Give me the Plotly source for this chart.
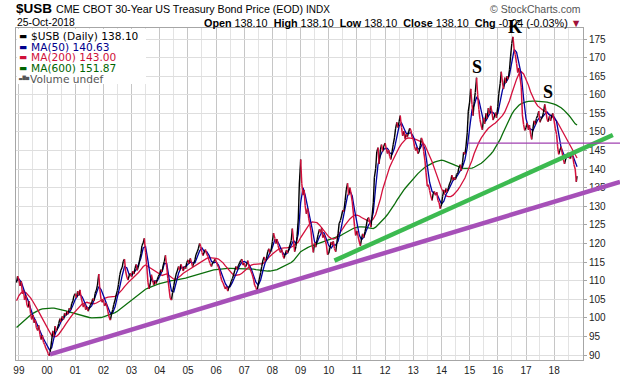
import pandas as pd
import plotly.graph_objects as go

# ---------------- data ----------------
# $USB closes, semi-monthly samples (1st and 15th) from Dec-1998, last = 25-Oct-2018
price_usb = [
    109.5, 111.2,  # 1998 Dec
    110.2, 108.6, 109.8, 106.5, 107.4, 104.8, 106.0, 103.4, 102.8, 104.5, 101.2, 99.6, 100.8, 98.7, 99.5, 97.4, 96.6, 98.0, 95.5, 94.2, 95.3, 93.4, 92.8, 91.9,  # 1999
    91.2, 90.4, 89.8, 91.5, 94.0, 96.5, 95.2, 97.8, 96.4, 97.2, 98.5, 99.8, 98.9, 100.4, 99.6, 101.3, 100.6, 101.8, 101.0, 102.6, 102.2, 103.8, 104.6, 106.0,  # 2000
    106.5, 105.4, 107.2, 106.0, 107.5, 105.8, 104.2, 102.9, 103.8, 102.2, 103.0, 101.8, 102.6, 103.4, 104.0, 105.2, 104.6, 106.6, 107.4, 108.8, 111.8, 107.6, 105.0, 104.2,  # 2001
    104.8, 103.2, 104.0, 103.0, 101.6, 100.2, 99.4, 101.0, 102.2, 103.6, 104.8, 106.2, 107.4, 109.0, 111.6, 112.8, 113.6, 115.2, 115.8, 112.6, 111.0, 110.2, 111.4, 112.0,  # 2002
    111.0, 112.6, 111.8, 113.4, 114.4, 112.8, 114.0, 115.6, 117.2, 119.4, 120.2, 121.4, 117.6, 114.4, 109.6, 107.8, 109.4, 111.6, 110.2, 108.8, 110.0, 109.2, 110.4, 111.2,  # 2003
    111.8, 113.0, 112.4, 114.2, 115.2, 116.8, 113.6, 110.6, 107.8, 105.4, 104.8, 106.8, 108.6, 110.2, 111.8, 112.6, 113.8, 112.8, 114.4, 113.6, 112.6, 113.8, 113.2, 114.8,  # 2004
    115.6, 114.6, 116.0, 115.0, 113.8, 114.6, 115.6, 117.0, 117.8, 118.6, 120.0, 119.2, 117.6, 116.8, 117.8, 118.4, 117.2, 116.6, 115.4, 114.6, 113.8, 114.8, 115.0, 115.8,  # 2005
    115.2, 114.4, 113.6, 112.6, 111.2, 110.0, 109.4, 108.6, 107.8, 108.4, 107.2, 108.2, 108.8, 109.8, 110.6, 111.6, 112.8, 113.8, 113.0, 114.0, 114.8, 115.4, 115.8, 114.2,  # 2006
    114.8, 113.6, 114.4, 115.4, 114.0, 113.2, 112.4, 111.6, 110.4, 108.8, 108.2, 107.2, 109.0, 110.4, 112.2, 113.8, 115.6, 116.4, 115.2, 116.0, 117.8, 118.6, 117.4, 118.2,  # 2007
    120.6, 122.8, 121.4, 120.0, 121.2, 119.4, 118.2, 117.6, 118.4, 116.8, 116.0, 117.2, 118.2, 117.4, 118.6, 119.6, 120.8, 124.0, 120.6, 117.8, 119.2, 121.8, 126.6, 136.0,  # 2008
    142.6, 136.2, 133.0, 134.4, 130.2, 128.0, 129.4, 126.8, 125.0, 123.4, 119.4, 117.6, 120.2, 119.0, 121.0, 122.4, 123.8, 123.0, 124.2, 121.6, 122.4, 121.0, 119.6, 117.0,  # 2009
    117.4, 118.8, 120.4, 119.6, 120.6, 118.6, 117.8, 120.2, 122.6, 125.4, 126.2, 127.4, 129.0, 128.6, 131.6, 134.4, 136.2, 133.0, 135.0, 133.6, 131.2, 128.2, 124.6, 122.2,  # 2010
    123.4, 122.0, 120.4, 119.4, 121.2, 122.6, 121.6, 123.2, 124.6, 126.4, 127.0, 125.8, 124.4, 127.2, 131.0, 137.8, 140.2, 144.6, 145.8, 141.4, 145.2, 146.6, 144.8, 146.2,  # 2011
    147.0, 145.6, 144.2, 145.2, 143.4, 142.6, 144.8, 146.6, 148.4, 150.8, 152.6, 151.2, 152.8, 154.4, 151.2, 149.0, 150.2, 148.2, 149.4, 148.6, 150.0, 151.0, 150.4, 148.6,  # 2012
    148.0, 146.2, 145.0, 145.8, 144.2, 144.6, 146.4, 148.4, 147.6, 144.8, 142.2, 139.0, 135.4, 135.8, 134.2, 132.8, 131.6, 133.4, 134.0, 133.0, 133.8, 131.6, 131.0, 129.4,  # 2013
    130.4, 132.6, 134.4, 133.6, 134.8, 133.8, 135.0, 136.0, 136.8, 138.4, 137.0, 137.8, 137.2, 138.6, 139.0, 140.4, 141.2, 139.6, 141.8, 144.6, 144.0, 146.2, 149.8, 155.6,  # 2014
    158.0, 161.6, 157.4, 154.4, 158.2, 160.6, 164.6, 160.0, 156.0, 153.4, 151.6, 150.6, 153.8, 152.2, 155.0, 153.6, 156.4, 154.8, 157.0, 155.6, 153.2, 154.0, 155.2, 153.8,  # 2015
    156.8, 160.4, 163.0, 166.2, 163.4, 161.6, 164.6, 163.2, 165.0, 164.2, 166.8, 170.4, 173.8, 175.6, 172.0, 170.8, 168.4, 166.0, 167.2, 164.8, 162.0, 154.6, 152.0, 150.4,  # 2016
    151.2, 152.4, 150.6, 151.8, 149.4, 148.0, 151.0, 153.0, 152.0, 153.6, 154.4, 155.6, 152.6, 153.4, 154.0, 155.2, 157.4, 155.8, 153.4, 152.8, 154.2, 153.0, 154.4, 155.0,  # 2017
    153.0, 151.0, 149.4, 146.0, 144.0, 145.0, 146.0, 144.4, 142.6, 141.4, 142.8, 143.8, 144.4, 143.2, 142.8, 144.6, 143.2, 141.2, 140.0, 136.6, 138.1,  # 2018
]

# moving averages, monthly samples (1st of month) from Dec-1998, last = 25-Oct-2018
ma50 = [
    110.0,
    110.4, 109.6, 107.8, 106.0, 104.6, 102.6, 100.6, 99.4, 97.8, 96.6, 95.0, 93.8,
    92.6, 91.4, 92.0, 94.8, 96.6, 97.6, 99.0, 99.8, 100.8, 101.2, 102.0, 103.4,
    105.0, 106.0, 106.4, 105.6, 104.0, 102.8, 102.6, 103.2, 104.8, 106.4, 108.4, 107.6,
    105.8, 104.0, 102.8, 101.2, 101.4, 103.0, 105.4, 108.4, 111.4, 113.8, 113.4, 111.6,
    111.4, 112.4, 113.0, 114.4, 116.0, 118.8, 119.2, 115.4, 111.0, 109.8, 109.8, 110.0,
    111.2, 112.6, 114.6, 114.6, 110.6, 107.2, 107.0, 109.6, 112.0, 113.4, 113.6, 113.8,
    114.4, 115.0, 114.8, 114.8, 116.4, 118.0, 118.8, 117.8, 117.8, 116.8, 115.2, 114.8,
    115.0, 114.2, 112.6, 110.8, 109.2, 108.2, 108.4, 109.6, 111.2, 112.8, 114.0, 115.0,
    115.2, 114.8, 114.4, 113.2, 111.6, 109.6, 108.8, 110.2, 112.8, 115.0, 116.2, 117.4,
    119.0, 121.0, 120.8, 119.6, 118.0, 117.0, 117.2, 118.2, 119.4, 120.8, 120.0, 122.6,
    131.0, 135.0, 133.0, 130.0, 127.4, 123.8, 120.4, 120.2, 121.8, 123.0, 122.8, 121.0,
    119.4, 118.8, 119.6, 119.6, 120.6, 123.2, 126.4, 129.0, 132.8, 134.2, 132.8, 129.0,
    125.2, 122.2, 121.0, 121.8, 123.4, 125.0, 125.8, 128.4, 135.2, 141.2, 143.6, 145.0,
    145.6, 145.6, 144.4, 144.0, 145.6, 148.6, 151.6, 152.4, 150.8, 149.6, 149.6, 149.8,
    148.8, 147.0, 145.4, 145.6, 147.0, 145.4, 140.8, 136.4, 134.0, 133.4, 133.4, 132.0,
    130.6, 131.4, 133.2, 134.4, 135.6, 137.0, 137.4, 138.4, 139.6, 140.6, 142.6, 145.8,
    151.0, 156.0, 157.2, 159.4, 158.6, 155.2, 152.8, 153.0, 154.4, 155.4, 155.2, 154.4,
    155.0, 158.0, 161.2, 163.0, 163.8, 165.4, 168.8, 172.2, 171.4, 168.8, 165.4, 159.0,
    153.6, 151.2, 150.8, 150.4, 151.8, 153.2, 154.0, 154.0, 154.8, 155.4, 154.6, 154.2,
    154.0, 152.8, 149.0, 145.8, 144.2, 143.2, 143.2, 143.8, 143.6, 142.2, 140.63,
]
ma200 = [
    104.6,
    106.0, 106.8, 107.0, 106.8, 106.2, 105.4, 104.4, 103.4, 102.2, 101.0, 99.8, 98.4,
    97.2, 96.0, 95.2, 94.9, 95.0, 95.6, 96.4, 97.4, 98.4, 99.4, 100.2, 101.0,
    101.8, 102.6, 103.2, 103.8, 104.0, 104.2, 104.0, 103.8, 103.8, 104.0, 104.4, 104.8,
    105.2, 105.4, 105.6, 105.6, 105.6, 105.8, 106.2, 106.8, 107.6, 108.4, 109.2, 109.8,
    110.4, 111.0, 111.6, 112.2, 113.0, 113.8, 114.2, 113.8, 113.2, 112.8, 112.4, 112.0,
    111.6, 111.4, 111.6, 111.8, 111.4, 110.8, 110.4, 110.4, 110.8, 111.4, 112.0, 112.4,
    112.8, 113.2, 113.6, 114.0, 114.4, 114.8, 115.4, 115.8, 116.0, 116.2, 116.2, 116.0,
    116.0, 115.8, 115.4, 114.8, 114.0, 113.2, 112.4, 111.8, 111.4, 111.4, 111.6, 112.0,
    112.6, 113.2, 113.8, 114.2, 114.4, 114.4, 114.4, 114.4, 114.6, 115.2, 116.0, 116.6,
    117.2, 117.8, 118.2, 118.6, 118.8, 118.8, 118.8, 118.8, 119.0, 119.4, 119.8, 120.4,
    121.6, 122.6, 123.6, 124.6, 125.4, 125.8, 125.8, 125.6, 125.0, 124.2, 123.4, 122.6,
    121.8, 121.4, 121.2, 121.4, 122.2, 123.0, 124.0, 125.0, 126.0, 126.6, 127.2, 127.6,
    127.6, 127.4, 127.0, 126.6, 126.2, 126.0, 126.0, 126.6, 127.8, 129.6, 132.0, 134.6,
    136.8, 138.8, 140.6, 142.0, 143.4, 144.6, 145.8, 146.8, 147.6, 148.2, 148.4, 148.4,
    148.2, 148.0, 147.8, 147.6, 147.2, 146.4, 145.0, 143.6, 142.0, 140.2, 138.2, 136.4,
    134.8, 133.6, 132.8, 132.6, 132.6, 133.0, 133.6, 134.4, 135.4, 136.4, 137.6, 139.2,
    140.6, 142.4, 144.2, 145.8, 147.2, 148.4, 149.4, 150.2, 151.0, 151.6, 152.0, 152.4,
    153.0, 153.6, 154.4, 155.4, 156.8, 158.4, 160.4, 162.4, 164.2, 165.6, 166.2, 165.6,
    164.2, 162.6, 160.8, 159.2, 158.0, 157.0, 156.4, 156.0, 155.6, 155.2, 154.8, 154.2,
    153.6, 153.0, 152.0, 150.8, 149.6, 148.6, 147.6, 146.4, 145.0, 143.8, 143.0,
]
ma600 = [
    97.4,
    98.0, 98.6, 99.2, 99.8, 100.4, 100.8, 101.2, 101.6, 101.9, 102.2, 102.4, 102.5,
    102.6, 102.6, 102.6, 102.6, 102.5, 102.4, 102.3, 102.1, 101.9, 101.7, 101.5, 101.3,
    101.1, 100.9, 100.7, 100.5, 100.3, 100.2, 100.1, 100.0, 100.0, 100.0, 100.0, 100.1,
    100.3, 100.5, 100.7, 100.9, 101.1, 101.4, 101.8, 102.3, 102.8, 103.3, 103.8, 104.3,
    104.8, 105.3, 105.8, 106.3, 106.8, 107.3, 107.7, 108.0, 108.3, 108.6, 108.8, 109.0,
    109.2, 109.4, 109.6, 109.8, 109.9, 110.0, 110.1, 110.2, 110.3, 110.4, 110.5, 110.7,
    110.9, 111.1, 111.3, 111.5, 111.7, 111.9, 112.1, 112.3, 112.5, 112.7, 112.8, 112.9,
    113.0, 113.1, 113.2, 113.3, 113.3, 113.3, 113.3, 113.3, 113.3, 113.3, 113.3, 113.3,
    113.3, 113.3, 113.3, 113.2, 113.1, 113.0, 112.9, 112.8, 112.7, 112.6, 112.6, 112.6,
    112.7, 112.8, 113.0, 113.3, 113.6, 113.9, 114.2, 114.5, 114.9, 115.4, 116.2, 117.2,
    117.8, 118.2, 118.6, 118.9, 119.2, 119.5, 119.7, 119.9, 120.1, 120.3, 120.5, 120.7,
    120.9, 121.1, 121.3, 121.5, 121.8, 122.1, 122.5, 122.9, 123.3, 123.6, 123.9, 124.2,
    124.4, 124.5, 124.5, 124.5, 124.4, 124.2, 124.0, 124.0, 124.4, 125.0, 125.6, 126.2,
    127.0, 127.8, 128.6, 129.5, 130.5, 131.6, 132.6, 133.5, 134.4, 135.2, 136.0, 136.8,
    137.5, 138.2, 138.8, 139.4, 140.0, 140.5, 140.9, 141.3, 141.6, 141.9, 142.1, 142.3,
    142.4, 142.3, 142.1, 141.9, 141.6, 141.3, 141.0, 140.7, 140.5, 140.3, 140.2, 140.2,
    140.2, 140.3, 140.5, 140.8, 141.2, 141.6, 142.1, 142.7, 143.3, 144.0, 144.8, 145.8,
    146.8, 148.0, 149.4, 150.8, 152.2, 153.6, 154.8, 155.8, 156.6, 157.2, 157.6, 157.9,
    158.1, 158.2, 158.3, 158.3, 158.3, 158.3, 158.2, 158.2, 158.1, 158.0, 157.9, 157.7,
    157.5, 157.2, 156.9, 156.5, 156.0, 155.4, 154.7, 153.9, 153.0, 152.2, 151.87,
]

# hand-drawn trend lines (start / end date, value)
support_dates = ["2000-02-08", "2020-05-04"]
support_vals = [90.2, 136.6]
uptrend_dates = ["2010-03-15", "2020-02-01"]
uptrend_vals = [115.4, 149.2]
neckline_dates = ["2014-12-10", "2020-05-04"]
neckline_vals = [147.0, 147.0]

# head & shoulders labels (K sits just above the top of the price panel)
pattern_labels = ["S", "K", "S"]
pattern_dates = ["2015-04-01", "2016-08-10", "2017-10-12"]
pattern_vals = [167.5, 178.3, 160.8]

# x tick labels
year_tick_dates = ["%d-01-01" % y for y in range(1999, 2019)]
year_tick_labels = ["99", "00", "01", "02", "03", "04", "05", "06", "07", "08",
                    "09", "10", "11", "12", "13", "14", "15", "16", "17", "18"]

legend_rows = [
    ("$USB (Daily) 138.10", "#000000"),
    ("MA(50) 140.63", "#00008c"),
    ("MA(200) 143.00", "#d0103a"),
    ("MA(600) 151.87", "#006400"),
]

# ---------------- dates ----------------
price_dates = list(pd.date_range("1998-12-01", "2018-10-15", freq="SMS")) + [pd.Timestamp("2018-10-25")]
ma_dates = list(pd.date_range("1998-12-01", "2018-10-01", freq="MS")) + [pd.Timestamp("2018-10-25")]
assert len(price_dates) == len(price_usb), (len(price_dates), len(price_usb))
assert len(ma_dates) == len(ma50) == len(ma200) == len(ma600)

# ---------------- geometry (page pixels) ----------------
W, H = 620, 376
ML, MR, MT, MB = 16, 0, 28, 16
PANEL_R = 583
PW = W - ML - MR
PH = H - MT - MB
x_dom = (PANEL_R - ML) / PW

def pxx(x):
    return (x - ML) / PW

def pxy(y):
    return (H - MB - y) / PH

x0 = pd.Timestamp("1998-11-24")
x1 = pd.Timestamp("2019-01-10")
x2_end = x0 + (x1 - x0) / x_dom
yr = [88.67, 177.96]

RED = "#d4103c"
fig = go.Figure()

# price: black on up moves, red on down moves
ux, uy, dx, dy = [], [], [], []
for i in range(1, len(price_usb)):
    if price_usb[i] >= price_usb[i - 1]:
        ux += [price_dates[i - 1], price_dates[i], None]
        uy += [price_usb[i - 1], price_usb[i], None]
    else:
        dx += [price_dates[i - 1], price_dates[i], None]
        dy += [price_usb[i - 1], price_usb[i], None]

fig.add_trace(go.Scatter(x=ma_dates, y=ma600, mode="lines", line=dict(color="#0b6e0b", width=1.3), hoverinfo="skip"))
fig.add_trace(go.Scatter(x=ma_dates, y=ma200, mode="lines", line=dict(color=RED, width=1.3), hoverinfo="skip"))
fig.add_trace(go.Scatter(x=ma_dates, y=ma50, mode="lines", line=dict(color="#0000a0", width=1.3), hoverinfo="skip"))
fig.add_trace(go.Scatter(x=ux, y=uy, mode="lines", line=dict(color="#000000", width=1.4), hoverinfo="skip"))
fig.add_trace(go.Scatter(x=dx, y=dy, mode="lines", line=dict(color=RED, width=1.5), hoverinfo="skip"))

# trend lines on an overlay axis pair that extends to the right edge of the page
fig.add_trace(go.Scatter(x=support_dates, y=support_vals, mode="lines", xaxis="x2", yaxis="y2",
                         line=dict(color="#a650b8", width=4.5), hoverinfo="skip"))
fig.add_trace(go.Scatter(x=uptrend_dates, y=uptrend_vals, mode="lines", xaxis="x2", yaxis="y2",
                         line=dict(color="#3cba50", width=4.5), hoverinfo="skip"))
fig.add_trace(go.Scatter(x=neckline_dates, y=neckline_vals, mode="lines", xaxis="x2", yaxis="y2",
                         line=dict(color="#a040b0", width=1.2), hoverinfo="skip"))

ann = []
HF = "Liberation Sans"

def txt(text, x, y, size, anchor="left", color="#000000", family=HF):
    ann.append(dict(x=pxx(x), y=pxy(y), xref="paper", yref="paper", text=text, showarrow=False,
                    xanchor=anchor, yanchor="middle", font=dict(family=family, size=size, color=color)))

txt("<b>$USB</b>", 14, 9, 13.5)
txt("CME CBOT 30-Year US Treasury Bond Price (EOD)", 53.5, 9.5, 10.7)
txt("INDX", 303.5, 9.5, 10)
txt("© StockCharts.com", 583, 9, 10.5, anchor="right", color="#555555")
txt("25-Oct-2018", 14.5, 22.5, 10.4)
txt("<b>Open</b> 138.10  <b>High</b> 138.10  <b>Low</b> 138.10  <b>Close</b> 138.10  <b>Chg</b> -0.04 (-0.03%) "
    "<span style='color:#a0103a'>▼</span>", 583, 22.5, 10.8, anchor="right")

LF = "DejaVu Sans"
row_y = [36.0, 46.7, 57.4, 68.1]
for (label, col), yy in zip(legend_rows, row_y):
    txt("▬", 17, yy, 8.5, color=col, family=LF)
    txt(label, 28.5, yy, 10.6, color=col, family=LF)
txt("▃▇▅", 16, 78.4, 4.4, color="#555555", family=LF)
txt("Volume undef", 27.5, 78.6, 10.6, color="#555555", family=LF)

# pattern letters: x from the date axis; y from the price scale converted to the paper frame
for lab, d, v in zip(pattern_labels, pattern_dates, pattern_vals):
    yp = (v - yr[0]) / (yr[1] - yr[0])
    ann.append(dict(x=d, y=yp, xref="x", yref="paper", text="<b>%s</b>" % lab, showarrow=False,
                    xanchor="center", yanchor="middle",
                    font=dict(family="Liberation Serif", size=18, color="#000000")))

shapes = [dict(type="rect", xref="paper", yref="paper", x0=pxx(17), x1=pxx(146), y0=pxy(84), y1=pxy(29),
               line=dict(width=0), fillcolor="#ffffff", layer="above")]

fig.update_layout(
    width=W, height=H,
    margin=dict(l=ML, r=MR, t=MT, b=MB, pad=0),
    paper_bgcolor="#ffffff", plot_bgcolor="rgba(0,0,0,0)",
    showlegend=False,
    annotations=ann, shapes=shapes,
    xaxis=dict(type="date", domain=[0, x_dom], range=[x0, x1], anchor="y",
               tickmode="array", tickvals=year_tick_dates, ticktext=year_tick_labels,
               showgrid=True, gridcolor="#c6c6c6", gridwidth=1,
               minor=dict(dtick="M6", tick0="1999-01-01", showgrid=True, gridcolor="#e3e3e3", gridwidth=1),
               showline=True, linecolor="#a6a6a6", linewidth=1, mirror=True,
               ticks="", ticklabelstandoff=1,
               tickfont=dict(family=HF, size=10, color="#222222"), zeroline=False),
    yaxis=dict(range=yr, domain=[0, 1], side="right", anchor="x",
               dtick=5, tick0=0, showgrid=True, gridcolor="#dedede", gridwidth=1,
               showline=True, linecolor="#a6a6a6", linewidth=1, mirror=True,
               ticks="outside", ticklen=3, tickcolor="#a6a6a6",
               tickfont=dict(family=HF, size=10, color="#222222"), zeroline=False),
    xaxis2=dict(type="date", domain=[0, 1], range=[x0, x2_end], anchor="y2", visible=False,
                showgrid=False, zeroline=False),
    yaxis2=dict(range=yr, domain=[0, 1], anchor="x2", visible=False, showgrid=False, zeroline=False),
)

# the page body has a default 8px margin; remove it so the 620x376 figure fills the window
fig.write_html("out.html", config={"displayModeBar": False, "staticPlot": True},
               post_script="document.body.style.margin='0px';")
